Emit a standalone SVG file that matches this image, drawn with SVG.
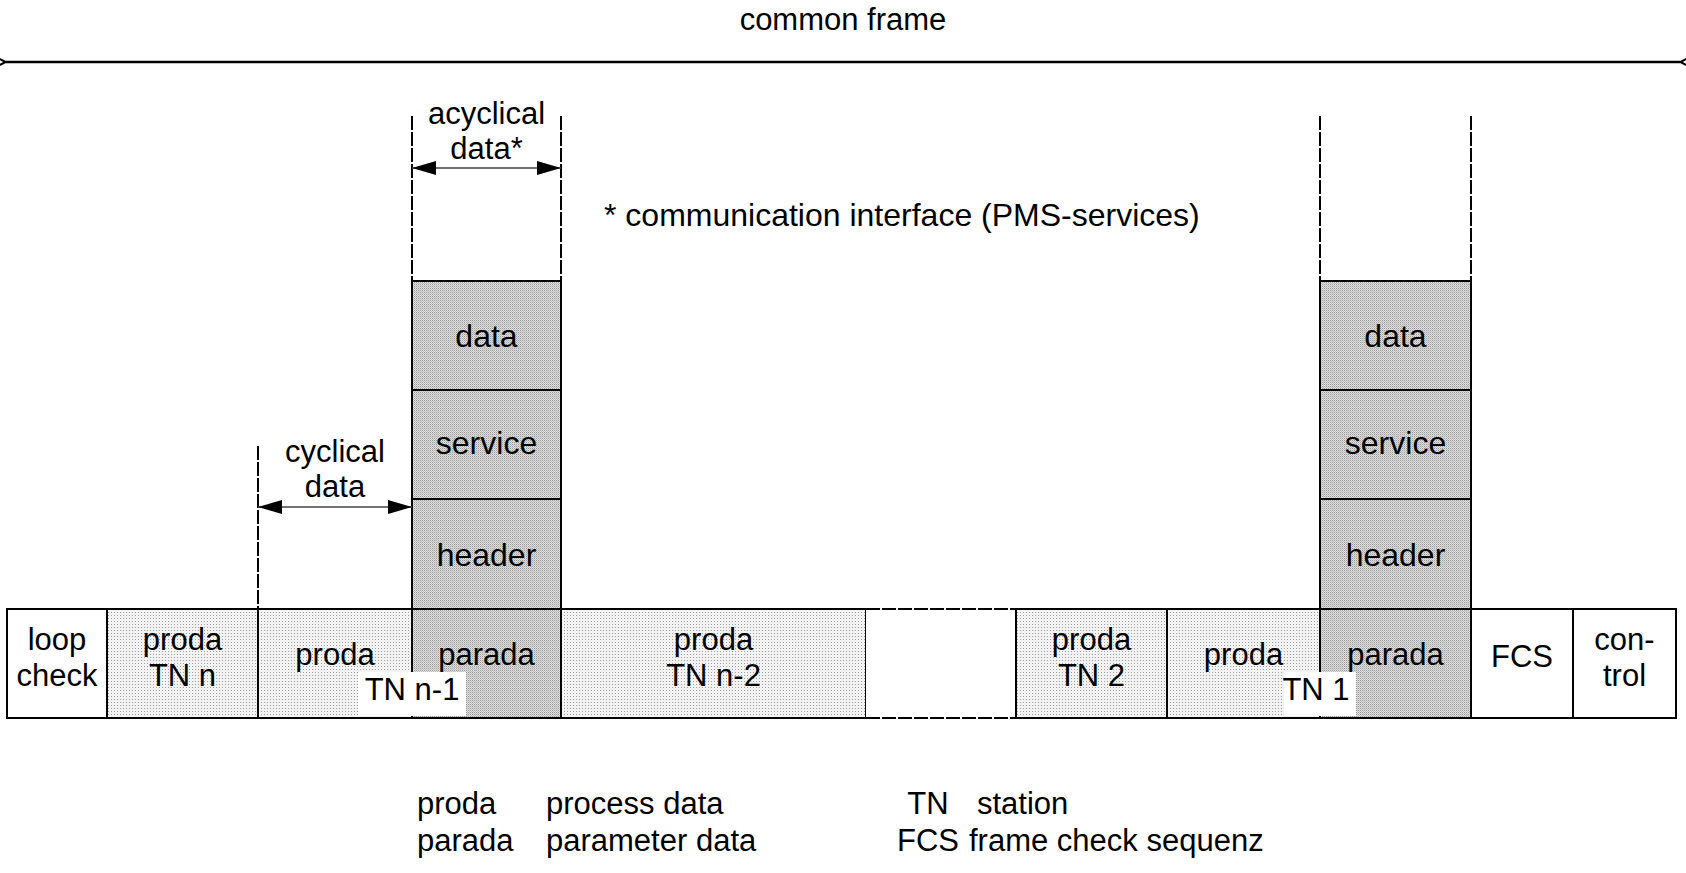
<svg xmlns="http://www.w3.org/2000/svg" width="1686" height="873" viewBox="0 0 1686 873">
  <style>
    .t { font-family: "Liberation Sans", Arial, sans-serif; font-size: 31px; fill: #000; text-anchor: middle; }
    .big { font-size: 32px; }
    .ts { text-anchor: start; }
    .cell { stroke: #000; stroke-width: 2; }
    .light { fill: url(#dotsLight); }
    .dark { fill: url(#dotsDark); }
    .white { fill: #fff; }
    .dash { fill: none; stroke: #000; stroke-width: 2; stroke-dasharray: 14 2; }
    .dim { fill: none; stroke: #444; stroke-width: 1.5; }
    .frameArrow { fill: none; stroke: #000; stroke-width: 2.5; }
  </style>
  <defs>
    <pattern id="dotsLight" width="3" height="3" patternUnits="userSpaceOnUse">
      <rect width="3" height="3" fill="#f3f3f3"/>
      <rect width="1" height="1" fill="#a0a0a0"/>
    </pattern>
    <pattern id="dotsDark" width="2" height="2" patternUnits="userSpaceOnUse">
      <rect width="2" height="2" fill="#dedede"/>
      <rect width="1" height="1" fill="#9a9a9a"/>
      <rect x="1" y="1" width="1" height="1" fill="#c2c2c2"/>
    </pattern>
    <marker id="openHead" viewBox="0 0 14 14" refX="1" refY="7" markerWidth="14" markerHeight="14" markerUnits="userSpaceOnUse" orient="auto-start-reverse">
      <path d="M12,1.5 L1.5,7 L12,12.5" fill="none" stroke="#000" stroke-width="2.2"/>
    </marker>
    <marker id="solidHead" viewBox="0 0 24 14" refX="24" refY="7" markerWidth="24" markerHeight="14" markerUnits="userSpaceOnUse" orient="auto-start-reverse">
      <path d="M0,0 L24,7 L0,14 Z" fill="#000"/>
    </marker>
  </defs>

  <rect width="1686" height="873" fill="#fff"/>

  <!-- title -->
  <g id="title">
    <text class="t" x="843" y="30">common frame</text>
  </g>

  <!-- parameter stack above TN n-1 -->
  <g id="stack-left">
    <rect class="cell dark" x="412" y="281" width="149" height="109"/>
    <rect class="cell dark" x="412" y="390" width="149" height="109"/>
    <rect class="cell dark" x="412" y="499" width="149" height="110"/>
    <text class="t big" x="486.5" y="347">data</text>
    <text class="t big" x="486.5" y="454">service</text>
    <text class="t big" x="486.5" y="566">header</text>
  </g>

  <!-- parameter stack above TN 1 -->
  <g id="stack-right">
    <rect class="cell dark" x="1320" y="281" width="151" height="109"/>
    <rect class="cell dark" x="1320" y="390" width="151" height="109"/>
    <rect class="cell dark" x="1320" y="499" width="151" height="110"/>
    <text class="t big" x="1395.5" y="347">data</text>
    <text class="t big" x="1395.5" y="454">service</text>
    <text class="t big" x="1395.5" y="566">header</text>
  </g>

  <!-- frame row -->
  <g id="cell-loop">
    <rect class="cell white" x="7" y="609" width="100" height="109"/>
    <text class="t" x="57" y="650">loop</text>
    <text class="t" x="57" y="686">check</text>
  </g>
  <g id="cell-tn-n">
    <rect class="cell light" x="107" y="609" width="151" height="109"/>
    <text class="t" x="182.5" y="650">proda</text>
    <text class="t" x="182.5" y="686">TN n</text>
  </g>
  <g id="cell-tn-n1">
    <rect class="cell light" x="258" y="609" width="154" height="109"/>
    <rect class="cell dark" x="412" y="609" width="149" height="109"/>
    <text class="t" x="335" y="665">proda</text>
    <text class="t" x="486.5" y="665">parada</text>
    <rect x="358" y="672" width="108" height="44" fill="#fff"/>
    <text class="t" x="412" y="700">TN n-1</text>
  </g>
  <g id="cell-tn-n2">
    <rect class="cell light" x="561" y="609" width="305" height="109"/>
    <text class="t" x="713.5" y="650">proda</text>
    <text class="t" x="713.5" y="686">TN n-2</text>
  </g>
  <g id="cell-gap">
    <rect x="866" y="609" width="150" height="109" fill="#fff"/>
    <line class="dash" x1="866" y1="609" x2="1016" y2="609"/>
    <line class="dash" x1="866" y1="718" x2="1016" y2="718"/>
  </g>
  <g id="cell-tn-2">
    <rect class="cell light" x="1016" y="609" width="151" height="109"/>
    <text class="t" x="1091.5" y="650">proda</text>
    <text class="t" x="1091.5" y="686">TN 2</text>
  </g>
  <g id="cell-tn-1">
    <rect class="cell light" x="1167" y="609" width="153" height="109"/>
    <rect class="cell dark" x="1320" y="609" width="151" height="109"/>
    <text class="t" x="1243.5" y="665">proda</text>
    <text class="t" x="1395.5" y="665">parada</text>
    <rect x="1284" y="672" width="72" height="44" fill="#fff"/>
    <text class="t" x="1316" y="700">TN 1</text>
  </g>
  <g id="cell-fcs">
    <rect class="cell white" x="1471" y="609" width="102" height="109"/>
    <text class="t" x="1522" y="667">FCS</text>
  </g>
  <g id="cell-control">
    <rect class="cell white" x="1573" y="609" width="103" height="109"/>
    <text class="t" x="1624.5" y="650">con-</text>
    <text class="t" x="1624.5" y="686">trol</text>
  </g>

  <!-- dimension lines and arrows -->
  <g id="connectors">
    <line class="frameArrow" x1="6" y1="62" x2="1680" y2="62" marker-start="url(#openHead)" marker-end="url(#openHead)"/>
    <line class="dash" x1="412" y1="116" x2="412" y2="281"/>
    <line class="dash" x1="561" y1="116" x2="561" y2="281"/>
    <line class="dash" x1="1320" y1="116" x2="1320" y2="281"/>
    <line class="dash" x1="1471" y1="116" x2="1471" y2="281"/>
    <line class="dash" x1="258" y1="446" x2="258" y2="609"/>
    <line class="dim" x1="412" y1="168" x2="561" y2="168" marker-start="url(#solidHead)" marker-end="url(#solidHead)"/>
    <line class="dim" x1="258" y1="507" x2="412" y2="507" marker-start="url(#solidHead)" marker-end="url(#solidHead)"/>
  </g>

  <!-- annotations -->
  <g id="label-acyclical">
    <text class="t" x="486.5" y="124" font-size="30">acyclical</text>
    <text class="t" x="486.5" y="159" font-size="30">data*</text>
  </g>
  <g id="label-cyclical">
    <text class="t" x="335" y="462">cyclical</text>
    <text class="t" x="335" y="497">data</text>
  </g>
  <g id="footnote">
    <text class="t big ts" x="604" y="226">* communication interface (PMS-services)</text>
  </g>

  <!-- legend -->
  <g id="legend">
    <text class="t ts" x="417" y="814">proda</text>
    <text class="t ts" x="417" y="851">parada</text>
    <text class="t ts" x="546" y="814">process data</text>
    <text class="t ts" x="546" y="851">parameter data</text>
    <text class="t" x="928" y="814">TN</text>
    <text class="t" x="928" y="851">FCS</text>
    <text class="t ts" x="977" y="814">station</text>
    <text class="t ts" x="969" y="851">frame check sequenz</text>
  </g>
</svg>
